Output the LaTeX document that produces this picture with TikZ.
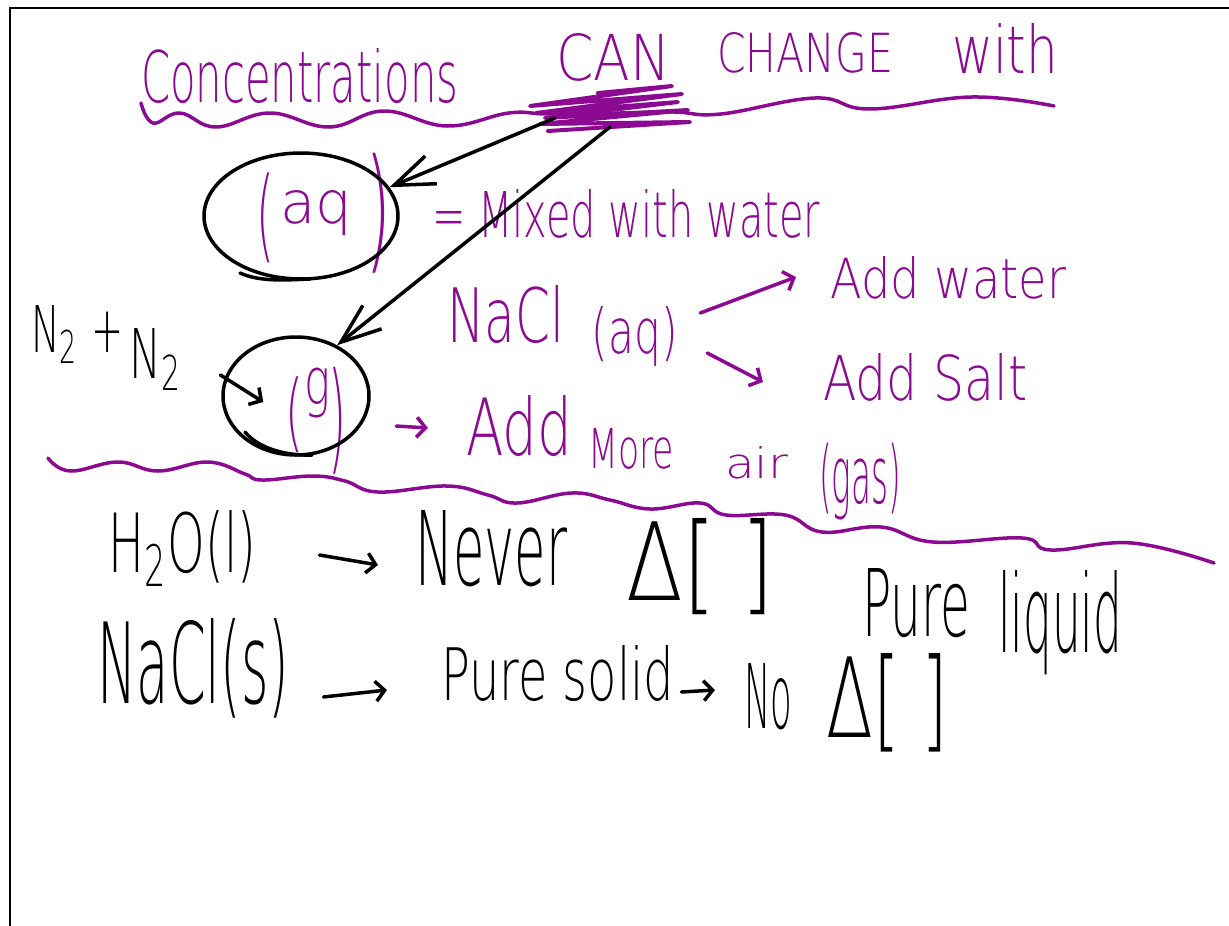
\documentclass[tikz,border=0pt]{standalone}
\usepackage{fontspec}
\usepackage{graphicx}
\setmainfont{DejaVu Sans ExtraLight}
\usetikzlibrary{arrows.meta,shapes.geometric,positioning}
\definecolor{ink}{RGB}{140,10,145}
% width, height above baseline / total height (for the words with brackets)
\newcommand{\scrawl}[3]{\resizebox{#1}{#2}{#3}}
\newcommand{\scrawlp}[3]{\resizebox*{#1}{#2}{#3}}
\tikzset{
	pen/.style={line width=3.5pt,line cap=round,line join=round},
	vpen/.style={pen,draw=ink},
	bpen/.style={pen,draw=black},
	word/.style={inner sep=0pt,anchor=base west},
	vword/.style={word,text=ink},
	pword/.style={inner sep=0pt,anchor=center,text=ink},
	bigbarb/.style={-{Straight Barb[length=40pt,width=30pt]}},
	hooktip/.style={-{Straight Barb[length=9pt,width=20pt]}},
}
\begin{document}
\begin{tikzpicture}[x=1pt,y=-1pt]
	\useasboundingbox (0,0) rectangle (1229,926);
	\draw [line width=2pt] (10,926) -- (10,8) -- (1229,8);
	% heading and its underline
	\node [vword] (conc) at (141,102) {\scrawl{317pt}{54pt}{Concentrations}};
	\node [vword] (can) at (556,80) {\scrawl{114pt}{47pt}{CAN}};
	\node [vword] (change) at (717,72) {\scrawl{176pt}{40pt}{CHANGE}};
	\node [vword] (with) at (952,73) {\scrawl{106pt}{50pt}{with}};
	\draw [vpen] plot [smooth,tension=0.7] coordinates {(141,103) (153,123) (180,113) (216,127) (270,113) (329,127) (384,111) (447,126) (509,113) (549,114) (620,113) (674,112) (721,114) (815,98) (870,109) (972,97) (1054,106)};
	\draw [vpen,line width=4pt] (598,93) -- (672,86) -- (530,106) -- (682,94) -- (536,113) -- (678,102) -- (545,118) -- (688,110) -- (540,124) -- (690,122) -- (548,131);
	\coordinate (scribA) at (555,118);
	\coordinate (scribB) at (610,127);
	% aqueous
	\node [pword] (aqL) at (265,218) {\scrawlp{18pt}{90pt}{(}};
	\node [vword] (aq) at (280,223) {\scrawl{72pt}{33pt}{aq}};
	\node [pword] (aqR) at (378,213) {\scrawlp{26pt}{120pt}{)}};
	\node [bpen,ellipse,minimum width=194pt,minimum height=126pt] (aqring) at (301,216) {};
	\draw [bpen] (240,273) .. controls (260,282) and (285,280) .. (310,279);
	\node [vword] (mixed) at (432,237) {\scrawl{388pt}{48pt}{= Mixed with water}};
	\node [vword] (nacl) at (447,342) {\scrawl{117pt}{57pt}{NaCl}};
	\node [pword] (naq) at (635,336) {\scrawlp{86pt}{60pt}{(aq)}};
	\node [vword] (addw) at (830,298) {\scrawl{236pt}{42pt}{Add water}};
	\node [vword] (adds) at (823,400) {\scrawl{204pt}{47pt}{Add Salt}};
	\draw [vpen,hooktip] ([shift={(22,-23)}]naq.east) -- ([shift={(-34,-21)}]addw.base west);
	\draw [vpen,hooktip] ([shift={(29,17)}]naq.east) -- ([shift={(-60,-18)}]adds.base west);
	% gas
	\node [word] (n2a) at (31,352) {\scrawl{92pt}{47pt}{N\textsubscript{2} +}};
	\node [word] (n2b) at (129,378) {\scrawl{53pt}{50pt}{N\textsubscript{2}}};
	\node [pword] (gL) at (294,415) {\scrawlp{18pt}{76pt}{(}};
	\node [pword] (g) at (317,393) {\scrawlp{26pt}{50pt}{g}};
	\node [pword] (gR) at (337,421) {\scrawlp{18pt}{107pt}{)}};
	\node [bpen,ellipse,minimum width=146pt,minimum height=118pt] (gring) at (296,396) {};
	\draw [bpen] (245,432) .. controls (258,448) and (285,456) .. (312,455);
	\node [vword] (add) at (466,455) {\scrawl{106pt}{60pt}{Add}};
	\node [vword] (more) at (588,468) {\scrawl{86pt}{40pt}{More}};
	\node [vword] (air) at (725,478) {\scrawl{63pt}{32pt}{air}};
	\node [pword] (gasw) at (860,482) {\scrawlp{82pt}{77pt}{(gas)}};
	\draw [vpen,hooktip] ([shift={(50,5)}]gR.east) -- ([shift={(-38,-27)}]add.base west);
	\draw [bpen,hooktip] ([shift={(38,-3)}]n2b.base east) -- ([shift={(42,6)}]gring.west);
	% arrows out of the scribble
	\draw [bpen,bigbarb] (scribA) -- (aqring.18);
	\draw [bpen,bigbarb] (scribB) -- (gring.51);
	\draw [vpen] plot [smooth,tension=0.7] coordinates {(48,458) (70,471) (118,462) (158,471) (208,462) (245,474) (262,480) (313,476) (345,481) (378,492) (447,486) (488,495) (517,503) (572,493) (610,500) (650,509) (700,503) (726,515) (785,515) (822,532) (881,527) (933,542) (1022,538) (1051,550) (1132,543) (1214,563)};
	% liquid and solid
	\node [word] (water) at (108,572) {\scrawl{148pt}{62pt}{H\textsubscript{2}O(l)}};
	\node [word] (never) at (415,585) {\scrawl{152pt}{75pt}{Never}};
	\node [word] (d1) at (626,600) {\scrawl{148pt}{82pt}{Δ[ ]}};
	\node [word] (pure) at (862,636) {\scrawl{108pt}{68pt}{Pure}};
	\node [word] (liquid) at (998,652) {\scrawl{124pt}{82pt}{liquid}};
	\node [word] (salt) at (97,703) {\scrawl{192pt}{85pt}{NaCl(s)}};
	\node [word] (solid) at (441,700) {\scrawl{233pt}{55pt}{Pure solid}};
	\node [word] (no) at (744,728) {\scrawl{48pt}{65pt}{No}};
	\node [word] (d2) at (826,737) {\scrawl{122pt}{84pt}{Δ[ ]}};
	\draw [bpen,hooktip] ([shift={(63,-17)}]water.base east) -- ([shift={(-37,-20)}]never.base west);
	\draw [bpen,hooktip] ([shift={(34,-6)}]salt.base east) -- ([shift={(-54,-10)}]solid.base west);
	\draw [bpen,hooktip] ([shift={(7,-8)}]solid.base east) -- ([shift={(-29,-38)}]no.base west);
\end{tikzpicture}
\end{document}
